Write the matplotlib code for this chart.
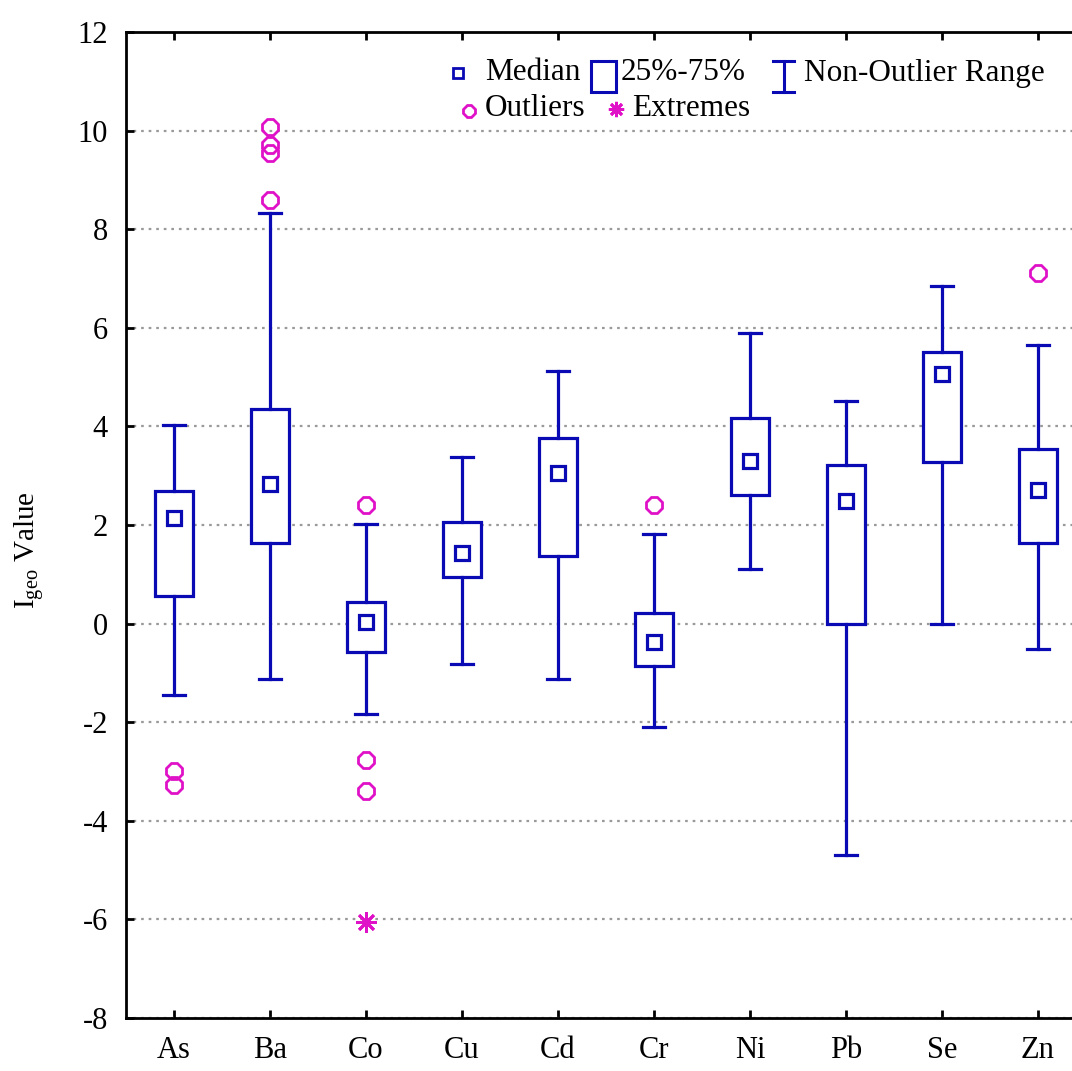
import matplotlib
matplotlib.use("Agg")
import matplotlib.pyplot as plt
from matplotlib.lines import Line2D
from matplotlib.patches import Rectangle

# Igeo values per element (box statistics)
elements = ['As', 'Ba', 'Co', 'Cu', 'Cd', 'Cr', 'Ni', 'Pb', 'Se', 'Zn']
medians = [2.14, 2.83, 0.04, 1.43, 3.05, -0.37, 3.30, 2.49, 5.06, 2.70]
q1 = [0.56, 1.64, -0.58, 0.94, 1.37, -0.86, 2.61, 0.00, 3.28, 1.64]
q3 = [2.68, 4.35, 0.44, 2.07, 3.77, 0.22, 4.18, 3.22, 5.50, 3.54]
whisker_low = [-1.45, -1.13, -1.83, -0.81, -1.13, -2.09, 1.10, -4.69, 0.00, -0.52]
whisker_high = [4.03, 8.32, 2.02, 3.38, 5.12, 1.81, 5.89, 4.52, 6.85, 5.65]
outliers = {
    'As': [-2.99, -3.27],
    'Ba': [10.08, 9.71, 9.55, 8.59],
    'Co': [2.41, -2.77, -3.40],
    'Cr': [2.41],
    'Zn': [7.12],
}
extremes = {'Co': [-6.05]}

y_ticks = [-8, -6, -4, -2, 0, 2, 4, 6, 8, 10, 12]

BLUE = '#0a0ab4'
MAGENTA = '#e012c8'
SERIF = 'Liberation Serif'

plt.rcParams['font.family'] = SERIF
plt.rcParams['mathtext.fontset'] = 'custom'
plt.rcParams['mathtext.rm'] = SERIF
plt.rcParams['mathtext.it'] = SERIF + ':italic'
plt.rcParams['axes.unicode_minus'] = False

W, H = 1072, 1071
fig = plt.figure(figsize=(W / 100, H / 100), dpi=100)
ax = fig.add_axes([126 / W, (H - 1018) / H, 960 / W, (1018 - 32) / H])

positions = list(range(len(elements)))
stats = []
for i, name in enumerate(elements):
    stats.append(dict(label=name, med=medians[i], q1=q1[i], q3=q3[i],
                      whislo=whisker_low[i], whishi=whisker_high[i], fliers=[]))

ax.bxp(stats, positions=positions, widths=0.4, capwidths=0.23,
       showfliers=False, patch_artist=True,
       boxprops=dict(facecolor='white', edgecolor=BLUE, linewidth=2.3),
       whiskerprops=dict(color=BLUE, linewidth=2.3),
       capprops=dict(color=BLUE, linewidth=2.3),
       medianprops=dict(linewidth=0))

# median squares
ax.plot(positions, medians, linestyle='none', marker='s', markersize=10,
        markerfacecolor='white', markeredgecolor=BLUE, markeredgewidth=2.3,
        zorder=5)

# outliers and extremes
for i, name in enumerate(elements):
    vals = outliers.get(name, [])
    if vals:
        ax.plot([i] * len(vals), vals, linestyle='none', marker='8',
                markersize=12, markerfacecolor='none',
                markeredgecolor=MAGENTA, markeredgewidth=2, zorder=5)
    ext = extremes.get(name, [])
    if ext:
        ax.plot([i] * len(ext), ext, linestyle='none', marker=(8, 2, 0),
                markersize=15, markeredgecolor=MAGENTA, markeredgewidth=2,
                zorder=5)

ax.set_xlim(-0.5, len(elements) - 0.5)
ax.set_ylim(-8, 12)
ax.set_yticks(y_ticks)
ax.set_yticklabels([str(t) for t in y_ticks])
ax.set_xticks(positions)
ax.set_xticklabels(elements)

ax.yaxis.grid(True, linestyle=(0, (1.2, 2.2)), color='#9a9a9a', linewidth=1.6)
ax.set_axisbelow(True)

for side in ['left', 'bottom', 'top', 'right']:
    ax.spines[side].set_linewidth(2.0)
    ax.spines[side].set_color('black')

ax.tick_params(axis='x', direction='in', top=True, bottom=True, length=6,
               width=2, labelsize=22, pad=13)
ax.tick_params(axis='y', direction='in', left=True, right=False, length=6,
               width=2, labelsize=22, pad=13)

ax.set_ylabel(r'I$_{\mathrm{geo}}$ Value', fontsize=21)
ax.yaxis.set_label_coords(-0.083, 0.475)

# legend drawn in pixel space on a full-figure overlay
lg = fig.add_axes([0, 0, 1, 1], facecolor='none')
lg.set_xlim(0, W)
lg.set_ylim(H, 0)
lg.axis('off')

fs = 22.5
lg.add_line(Line2D([458], [73], linestyle='none', marker='s', markersize=7.5,
                   markerfacecolor='white', markeredgecolor=BLUE,
                   markeredgewidth=2))
lg.text(485, 73, 'Median', fontsize=fs, va='center', ha='left')
lg.add_patch(Rectangle((591, 61), 25, 31, facecolor='white',
                       edgecolor=BLUE, linewidth=2.2))
lg.text(621, 73, '25%-75%', fontsize=fs, va='center', ha='left')
lg.add_line(Line2D([783.5, 783.5], [61, 92], color=BLUE, linewidth=2.2))
lg.add_line(Line2D([773, 794], [61, 61], color=BLUE, linewidth=2.2))
lg.add_line(Line2D([773, 794], [92, 92], color=BLUE, linewidth=2.2))
lg.text(804, 73, 'Non-Outlier Range', fontsize=fs, va='center', ha='left')

lg.add_line(Line2D([469], [111], linestyle='none', marker='8', markersize=9,
                   markerfacecolor='none', markeredgecolor=MAGENTA,
                   markeredgewidth=2))
lg.text(485, 108, 'Outliers', fontsize=fs, va='center', ha='left')
lg.add_line(Line2D([616], [109], linestyle='none', marker=(8, 2, 0),
                   markersize=11, markeredgecolor=MAGENTA,
                   markeredgewidth=2))
lg.text(632, 108, 'Extremes', fontsize=fs, va='center', ha='left')

fig.savefig('out.png', dpi=100)
